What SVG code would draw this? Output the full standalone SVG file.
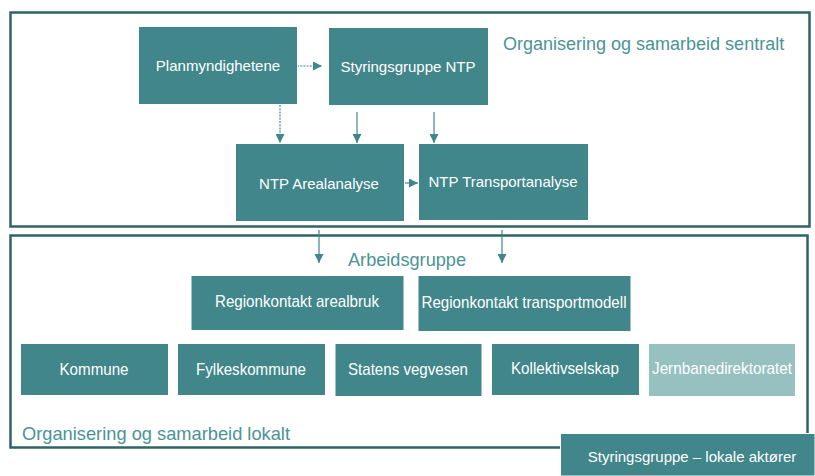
<svg xmlns="http://www.w3.org/2000/svg" width="815" height="476" viewBox="0 0 815 476">
<defs>
<style>
.frame{fill:#fff;stroke:#2f6467;stroke-width:2.5}
.box{fill:#40868a;stroke:#fff;stroke-width:1}
.lbox{fill:#97c0c1;stroke:#fff;stroke-width:1}
.t{font-family:"Liberation Sans",Arial,sans-serif;font-size:15px;fill:#fff;text-anchor:middle}
.n{font-family:"Liberation Sans",Arial,sans-serif;font-size:17px;fill:#fff;text-anchor:middle}
.h{font-family:"Liberation Sans",Arial,sans-serif;font-size:18px;fill:#4a9497}
.hn{font-family:"Liberation Sans",Arial,sans-serif;font-size:19px;fill:#4a9497}
.c{stroke:#40868a;stroke-width:1.2;fill:none}
.d{stroke-dasharray:2,1.2}
</style>
<marker id="ah" viewBox="0 0 10 10" refX="10" refY="5" markerWidth="9" markerHeight="9" markerUnits="userSpaceOnUse" orient="auto">
<path d="M0,0L10,5L0,10z" fill="#40868a"/>
</marker>
</defs>
<rect width="815" height="476" fill="#fff"/>
<g id="frame-sentralt">
<rect class="frame" x="10.5" y="12.5" width="799" height="214"/>
<text class="h" x="503" y="50">Organisering og samarbeid sentralt</text>
</g>
<g id="frame-lokalt">
<rect class="frame" x="10.5" y="235.5" width="797" height="212"/>
<text class="hn" x="22" y="440" textLength="268" lengthAdjust="spacingAndGlyphs">Organisering og samarbeid lokalt</text>
</g>
<g id="connectors">
<line class="c d" x1="297" y1="66" x2="322" y2="66" marker-end="url(#ah)"/>
<line class="c d" x1="280" y1="105" x2="280" y2="143" marker-end="url(#ah)"/>
<line class="c" x1="357" y1="112" x2="357" y2="143" marker-end="url(#ah)"/>
<line class="c" x1="434" y1="112" x2="434" y2="143" marker-end="url(#ah)"/>
<line class="c" x1="401" y1="183" x2="418" y2="183" marker-end="url(#ah)"/>
<line class="c" x1="319" y1="230" x2="319" y2="263" marker-end="url(#ah)"/>
<line class="c" x1="502" y1="230" x2="502" y2="263" marker-end="url(#ah)"/>
</g>
<g id="planmyndighetene"><rect class="box" x="138.5" y="26.5" width="159" height="78"/><text class="t" x="218" y="71">Planmyndighetene</text></g>
<g id="styringsgruppe-ntp"><rect class="box" x="328.5" y="27.5" width="160" height="78"/><text class="t" x="408" y="72">Styringsgruppe NTP</text></g>
<g id="ntp-arealanalyse"><rect class="box" x="235.5" y="143.5" width="169" height="78"/><text class="t" x="319" y="189">NTP Arealanalyse</text></g>
<g id="ntp-transportanalyse"><rect class="box" x="418.5" y="143.5" width="170" height="77"/><text class="t" x="503" y="187">NTP Transportanalyse</text></g>
<g id="arbeidsgruppe"><text class="hn" x="348" y="266" textLength="118" lengthAdjust="spacingAndGlyphs">Arbeidsgruppe</text></g>
<g id="regionkontakt-arealbruk"><rect class="box" x="191" y="275.5" width="213" height="55"/><text class="n" x="297" y="307" textLength="164" lengthAdjust="spacingAndGlyphs">Regionkontakt arealbruk</text></g>
<g id="regionkontakt-transportmodell"><rect class="box" x="418" y="275.5" width="213" height="56"/><text class="n" x="524" y="308" textLength="205" lengthAdjust="spacingAndGlyphs">Regionkontakt transportmodell</text></g>
<g id="kommune"><rect class="box" x="20.5" y="343.5" width="148" height="52"/><text class="n" x="94" y="375" textLength="69" lengthAdjust="spacingAndGlyphs">Kommune</text></g>
<g id="fylkeskommune"><rect class="box" x="177.5" y="343.5" width="148" height="52"/><text class="n" x="251" y="375" textLength="110" lengthAdjust="spacingAndGlyphs">Fylkeskommune</text></g>
<g id="statens-vegvesen"><rect class="box" x="335" y="343.5" width="147" height="53"/><text class="n" x="408" y="375" textLength="120" lengthAdjust="spacingAndGlyphs">Statens vegvesen</text></g>
<g id="kollektivselskap"><rect class="box" x="491.5" y="343.5" width="148" height="52"/><text class="n" x="565" y="374" textLength="108" lengthAdjust="spacingAndGlyphs">Kollektivselskap</text></g>
<g id="jernbanedirektoratet"><rect class="lbox" x="648.5" y="343.5" width="147" height="53"/><text class="n" x="722" y="374" textLength="140" lengthAdjust="spacingAndGlyphs">Jernbanedirektoratet</text></g>
<g id="styringsgruppe-lokale"><rect class="box" x="560.5" y="433.5" width="254.5" height="42.5"/><text class="t" x="692" y="462">Styringsgruppe – lokale aktører</text></g>
</svg>
